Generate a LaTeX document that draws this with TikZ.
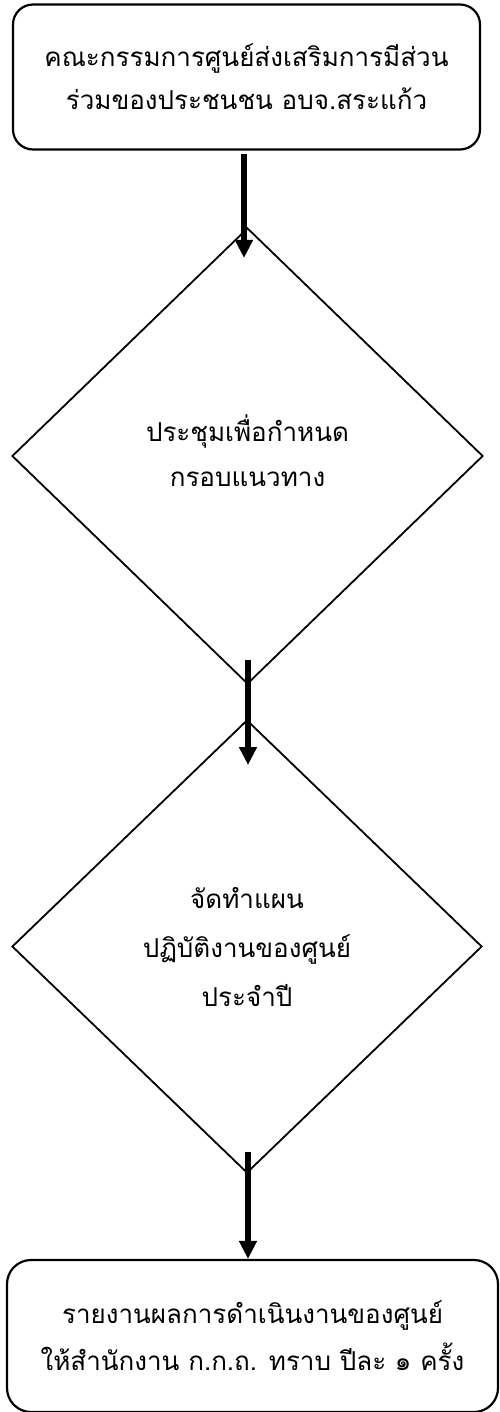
\documentclass[tikz,border=0pt]{standalone}
\usepackage{fontspec}
\newfontfamily\thaifont[Script=Thai]{Loma}
\usetikzlibrary{shapes.geometric,arrows.meta}
\begin{document}
\begin{tikzpicture}[x=1pt,y=-1pt,
  txt/.style={font=\thaifont\fontsize{26}{45}\selectfont, align=center, text=black},
  roundbox/.style={txt, draw=black, line width=2.2pt, rounded corners=20pt, inner sep=0pt},
  decision/.style={txt, draw=black, line width=1.8pt, diamond, inner sep=0pt},
  flow/.style={line width=5.5pt, -{Triangle[width=17pt,length=18pt]}}]
\useasboundingbox (0,0) rectangle (500,1412);
\node[roundbox, font=\thaifont\fontsize{26}{43}\selectfont, minimum width=467pt, minimum height=145pt] (top) at (246.5,77)
  {คณะกรรมการศูนย์ส่งเสริมการมีส่วน\\ร่วมของประชนชน อบจ.สระแก้ว};
\node[decision, minimum width=471pt, minimum height=456pt,
  label={[txt, yshift=5pt]center:{ประชุมเพื่อกำหนด\\กรอบแนวทาง}}] (d1) at (247.5,456) {};
\node[decision, font=\thaifont\fontsize{26}{49}\selectfont, minimum width=470pt, minimum height=453pt] (d2) at (247,946.5)
  {จัดทำแผน\\ปฏิบัติงานของศูนย์\\ประจำปี};
\node[roundbox, rounded corners=24pt, font=\thaifont\fontsize{26}{47}\selectfont, minimum width=491pt, minimum height=152pt] (bot) at (252.5,1336)
  {รายงานผลการดำเนินงานของศูนย์\\ให้สำนักงาน ก.ก.ถ. ทราบ ปีละ ๑ ครั้ง};
\coordinate (a1e) at (244,258);
\coordinate (a2s) at (248,660);
\coordinate (a2e) at (248,765);
\coordinate (a3s) at (248,1152);
\draw[flow] ([yshift=-3pt]top.south -| a1e) -- (a1e);
\draw[flow] (a2s) -- (a2e);
\draw[flow] (a3s) -- (a3s |- bot.north);
\end{tikzpicture}
\end{document}
